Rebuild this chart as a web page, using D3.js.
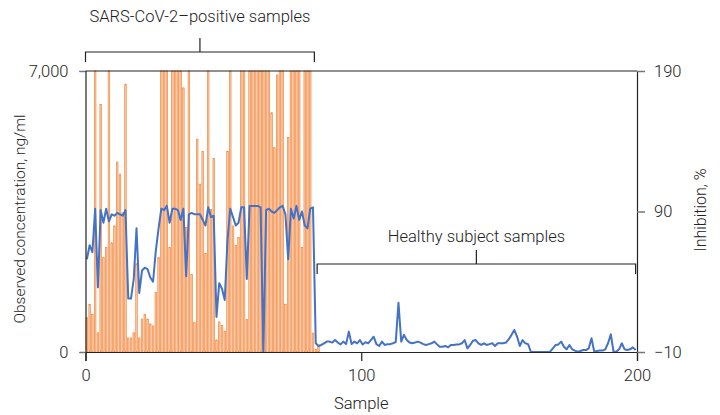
<!DOCTYPE html>
<meta charset="utf-8">
<title>Concentration and inhibition by sample</title>
<style>
  body { margin: 0; background: #fff; }
  text { font-family: Roboto, "Liberation Sans", sans-serif; font-weight: 300; fill: #222; }
</style>
<body>
<script src="https://d3js.org/d3.v7.min.js"></script>
<script>

var width = 720,
    height = 415;

// observed concentration (ng/ml), samples 1-200 (clipped at 7,000)
var concPositive = [855, 1190, 940, 7000, 480, 6170, 2350, 2600, 7000, 2720,
  3140, 4730, 4430, 3470, 6670, 350, 350, 480, 2200, 350,
  820, 940, 820, 700, 650, 1480, 2350, 7000, 7000, 7000,
  2600, 7000, 7000, 7000, 7000, 6580, 3100, 7000, 1935, 730,
  5300, 4180, 5000, 2460, 7000, 3550, 4820, 300, 750, 660,
  520, 5000, 7000, 3140, 2660, 2850, 7000, 7000, 815, 7000,
  7000, 7000, 7000, 7000, 0, 7000, 7000, 7000, 5960, 5090,
  6900, 7000, 7000, 1190, 5340, 7000, 7000, 7000, 7000, 2600,
  7000, 7000, 7000];
var concHealthy = [0, 0, 0, 0, 0, 0, 0, 0, 0, 0,
  0, 0, 0, 0, 0, 0, 0, 0, 0, 0,
  0, 0, 0, 0, 0, 0, 0, 0, 0, 0,
  470, 0, 0, 0, 0, 0, 0, 0, 0, 0,
  0, 0, 0, 0, 0, 0, 0, 0, 0, 0,
  0, 0, 0, 0, 0, 0, 0, 0, 0, 0,
  0, 0, 0, 0, 0, 0, 0, 0, 0, 0,
  0, 0, 0, 0, 0, 0, 0, 0, 0, 0,
  0, 0, 0, 0, 0, 0, 0, 0, 0, 0,
  0, 0, 0, 0, 0, 0, 0, 0, 0, 0,
  60, 0, 0, 0, 0, 0, 0, 150, 0, 0,
  0, 0, 0, 0, 0, 0, 0];

// inhibition (%)
var inhPositive = [56, 66, 61, 92, 36, 91, 82, 92, 83, 88,
  87, 89, 88, 87, 91, 28, 28, 42, 78, 32,
  48, 50, 49, 43, 40, 62, 78, 92, 91, 94,
  82, 92, 92, 91, 84, 92, 44, 88, 89, 88,
  88, 88, 84, 80, 93, 86, 87, 15, 39, 35,
  27, 70, 92, 86, 80, 82, 93, 93, 42, 94,
  94, 94, 94, 93, -10, 91, 92, 90, 89, 91,
  93, 94, 88, 56, 92, 85, 94, 84, 90, 80,
  78, 92, 93];
var inhHealthy = [-3.8, -5.7, -5, -3.8, -2.6, -2.6, -3.3, -1.5, -3.3, -4.6,
  -2.6, -4.4, 4.5, -4.4, -2.6, -3.8, -1.5, -4.6, -3, -3.8,
  -1.5, 0.9, -4.4, -5.7, -2.6, -5, -4.4, -4.4, -3.8, -3,
  25, -2.6, 2.2, -1.5, -3.3, -3.8, -3.3, -2.6, -3.3, -4.4,
  -5, -4.4, -3.8, -2.6, -4.6, -6.2, -6.2, -5.7, -6.7, -5,
  -5, -4.6, -4.6, -3.8, -1.5, -7.4, -5, -2, -1.5, -3.8,
  -5, -3.8, -5, -4.4, -3.8, -5.7, -3.8, -3.8, -3.8, -3.3,
  -0.9, 2.2, 5.7, 1, -5.7, -1.5, -3.8, -4.4, -9.8, -10,
  -10, -10, -10, -10, -10, -9.8, -7.4, -5, -4.6, -2.6,
  -6.2, -8.1, -5, -8.1, -9, -9.8, -9.3, -8.6, -8.6, -7.4,
  -0.2, -9.8, -9.3, -9, -9, -8.1, -3.8, 2.6, -9.8, -9.8,
  -8.1, -3.8, -8.1, -8.6, -8.1, -6.7, -8.6];

var conc = concPositive.concat(concHealthy);
var inhibition = inhPositive.concat(inhHealthy);

var xTicks = [0, 100, 200],
    leftTicks = [0, 7000],
    rightTicks = [-10, 90, 190];

var groups = [
  {label: "SARS-CoV-2\u2013positive samples", from: 0, to: 83, y: 52, labelY: 22},
  {label: "Healthy subject samples", from: 84, to: 199.5, y: 264, labelY: 242}
];

var margin = {top: 71, right: 83, bottom: 63, left: 85.5};

var x = d3.scaleLinear().domain([0, 200]).range([margin.left, width - margin.right]);
var yL = d3.scaleLinear().domain([0, 7000]).range([height - margin.bottom, margin.top]);
var yR = d3.scaleLinear().domain([-10, 190]).range([height - margin.bottom, margin.top]);

var svg = d3.select("body").append("svg")
    .attr("width", width)
    .attr("height", height);

var step = x(1) - x(0);

// bars
svg.append("g")
  .selectAll("rect")
  .data(conc)
  .enter().append("rect")
    .filter(function(d) { return d > 0; })
    .attr("x", function(d, i) { return x(i) + 0.6; })
    .attr("width", step - 1.2)
    .attr("y", function(d) { return yL(d); })
    .attr("height", function(d) { return yL(0) - yL(d); })
    .attr("fill", "#fbcdab")
    .attr("stroke", "#f28840")
    .attr("stroke-width", 0.7);

// inhibition line
var line = d3.line()
    .x(function(d, i) { return x(i + 0.5); })
    .y(function(d) { return yR(d); });

svg.append("path")
    .datum(inhibition)
    .attr("d", line)
    .attr("fill", "none")
    .attr("stroke", "#4472c4")
    .attr("stroke-width", 2)
    .attr("stroke-linejoin", "round");

// frame top
svg.append("line")
    .attr("x1", x(0)).attr("x2", x(200))
    .attr("y1", yL(7000)).attr("y2", yL(7000))
    .attr("stroke", "#222").attr("stroke-width", 1.2);

// axes
var xAxis = svg.append("g")
    .attr("transform", "translate(0," + yL(0) + ")")
    .call(d3.axisBottom(x).tickValues(xTicks).tickSize(9).tickPadding(8).tickFormat(d3.format("d")));

var leftAxis = svg.append("g")
    .attr("transform", "translate(" + x(0) + ",0)")
    .call(d3.axisLeft(yL).tickValues(leftTicks).tickSize(6).tickPadding(11).tickFormat(d3.format(",")));

var rightAxis = svg.append("g")
    .attr("transform", "translate(" + x(200) + ",0)")
    .call(d3.axisRight(yR).tickValues(rightTicks).tickSize(8).tickPadding(9)
      .tickFormat(function(d) { return d < 0 ? "\u2212" + Math.abs(d) : d; }));

[xAxis, leftAxis, rightAxis].forEach(function(a) {
  a.select(".domain").attr("stroke", "#222").attr("stroke-width", 1.2);
  a.selectAll(".tick line").attr("stroke", "#777").attr("stroke-width", 1.5);
  a.selectAll(".tick text").attr("fill", "#222").style("font-size", "16.5px")
    .style("font-family", "Roboto, sans-serif").style("font-weight", 300);
});
xAxis.selectAll(".tick line").attr("stroke", "#222").attr("stroke-width", 1.2);

// axis titles
svg.append("text")
    .attr("x", x(100)).attr("y", 409)
    .attr("text-anchor", "middle")
    .style("font-size", "16.5px")
    .text("Sample");

svg.append("text")
    .attr("transform", "translate(25,219) rotate(-90)")
    .attr("text-anchor", "middle")
    .style("font-size", "15.5px")
    .text("Observed concentration, ng/ml");

svg.append("text")
    .attr("transform", "translate(706,210) rotate(-90)")
    .attr("text-anchor", "middle")
    .style("font-size", "16px")
    .text("Inhibition, %");

// group brackets
groups.forEach(function(g) {
  var x1 = x(g.from), x2 = x(g.to), xm = (x1 + x2) / 2;
  svg.append("path")
    .attr("d", "M" + x1 + "," + (g.y + 10) + "V" + g.y + "H" + x2 + "V" + (g.y + 10) +
               "M" + xm + "," + g.y + "V" + (g.y - 14))
    .attr("fill", "none")
    .attr("stroke", "#222")
    .attr("stroke-width", 1.2);
  svg.append("text")
    .attr("x", xm).attr("y", g.labelY)
    .attr("text-anchor", "middle")
    .style("font-size", "16.5px")
    .text(g.label);
});

</script>
